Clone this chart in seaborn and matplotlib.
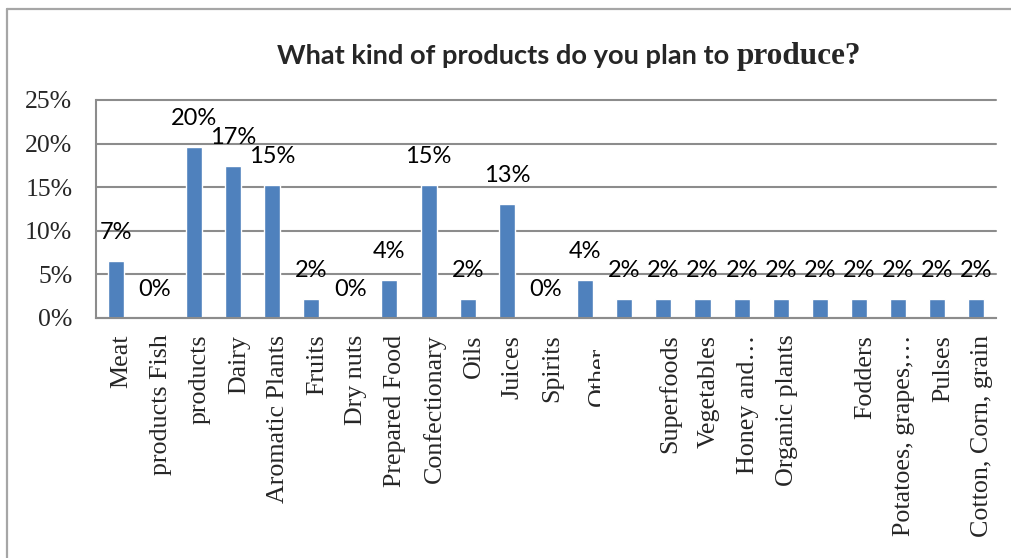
import matplotlib
matplotlib.use("Agg")
import matplotlib.pyplot as plt
import matplotlib.transforms as mtransforms
from matplotlib.lines import Line2D
import seaborn as sns
import pandas as pd

# Survey answers: share of respondents per product type (%)
categories = [
    "Meat", "products Fish", "products", "Dairy", "Aromatic Plants", "Fruits",
    "Dry nuts", "Prepared Food", "Confectionary", "Oils", "Juices", "Spirits",
    "Other", "", "Superfoods", "Vegetables", "Honey and\u2026", "Organic plants",
    "", "Fodders", "Potatoes, grapes,\u2026", "Pulses", "Cotton, Corn, grain",
]
shares = [
    6.52, 0.0, 19.57, 17.39, 15.22, 2.17,
    0.0, 4.35, 15.22, 2.17, 13.04, 0.0,
    4.35, 2.17, 2.17, 2.17, 2.17, 2.17,
    2.17, 2.17, 2.17, 2.17, 2.17,
]
y_ticks = [0, 5, 10, 15, 20, 25]
title_main = "What kind of products do you plan to"
title_tail = "produce?"

BAR_BLUE = "#4F81BD"
GRID_GREY = "#8c8c8c"
SERIF = "Liberation Serif"
SANS = "Lato"

sns.set_style("white")
plt.rcParams["font.family"] = [SANS, "DejaVu Sans"]

W, H = 1012, 558
fig = plt.figure(figsize=(W / 100, H / 100), dpi=100)
ax = fig.add_axes([96 / W, 1 - 318 / H, 900 / W, 218 / H])

df = pd.DataFrame({"pos": range(len(categories)), "share": shares})
sns.barplot(data=df, x="pos", y="share", color=BAR_BLUE, saturation=1,
            width=0.41, ax=ax)

ax.set_xlim(-0.5, len(categories) - 0.5)
ax.set_ylim(0, 25)
ax.set_xlabel("")
ax.set_ylabel("")

# value labels above bars
for cont in ax.containers:
    ax.bar_label(cont, labels=[f"{v:.0f}%" for v in shares], padding=13,
                 fontsize=17, fontfamily=[SANS], color="black")

# axes styling
ax.set_yticks(y_ticks)
ax.set_yticklabels([f"{t}%" for t in y_ticks], fontfamily=SERIF, fontsize=18.5)
ax.set_xticks(range(len(categories)))
ax.set_xticklabels(categories, rotation=90, fontfamily=SERIF, fontsize=18.7,
                   va="top", ha="center")
ax.tick_params(axis="x", length=0, pad=12)
ax.tick_params(axis="y", length=0, pad=17)

ax.yaxis.grid(True, color=GRID_GREY, linewidth=1.5)
ax.set_axisbelow(True)
for side in ("top", "right"):
    ax.spines[side].set_visible(False)
for side in ("left", "bottom"):
    ax.spines[side].set_color(GRID_GREY)
    ax.spines[side].set_linewidth(1.5)
for gl in ax.yaxis.get_gridlines():
    gl.set_clip_on(False)

# shift category labels slightly right
shift = mtransforms.ScaledTranslation(6 / 100, 0, fig.dpi_scale_trans)
labels = ax.get_xticklabels()
for lab in labels:
    lab.set_transform(lab.get_transform() + shift)
# the "Other" label sits a bit lower and is cut off along its baseline side
other = labels[12]
other.set_transform(other.get_transform() + mtransforms.ScaledTranslation(
    8 / 100, -12 / 100, fig.dpi_scale_trans))
clip = mtransforms.TransformedBbox(
    mtransforms.Bbox([[0, 0], [600 / W, 1]]), fig.transFigure)
other.set_clip_box(clip)
other.set_clip_on(True)

# title: sans part followed by serif word
base_y = 1 - 64 / H
fig.text(277 / W, base_y, title_main, fontfamily=[SANS], fontweight="bold",
         fontsize=19.6, ha="left", va="baseline")
fig.text(737 / W, base_y, title_tail, fontfamily=[SERIF], fontweight="bold",
         fontsize=22.5, ha="left", va="baseline")

# chart area frame (left and top edges)
frame_col = "#a6a6a6"
fig.add_artist(Line2D([7 / W, 7 / W], [0, 1 - 9 / H], transform=fig.transFigure,
                      color=frame_col, lw=1.6))
fig.add_artist(Line2D([7 / W, 1], [1 - 9 / H, 1 - 9 / H],
                      transform=fig.transFigure, color=frame_col, lw=1.6))

fig.savefig("out.png", dpi=100)
